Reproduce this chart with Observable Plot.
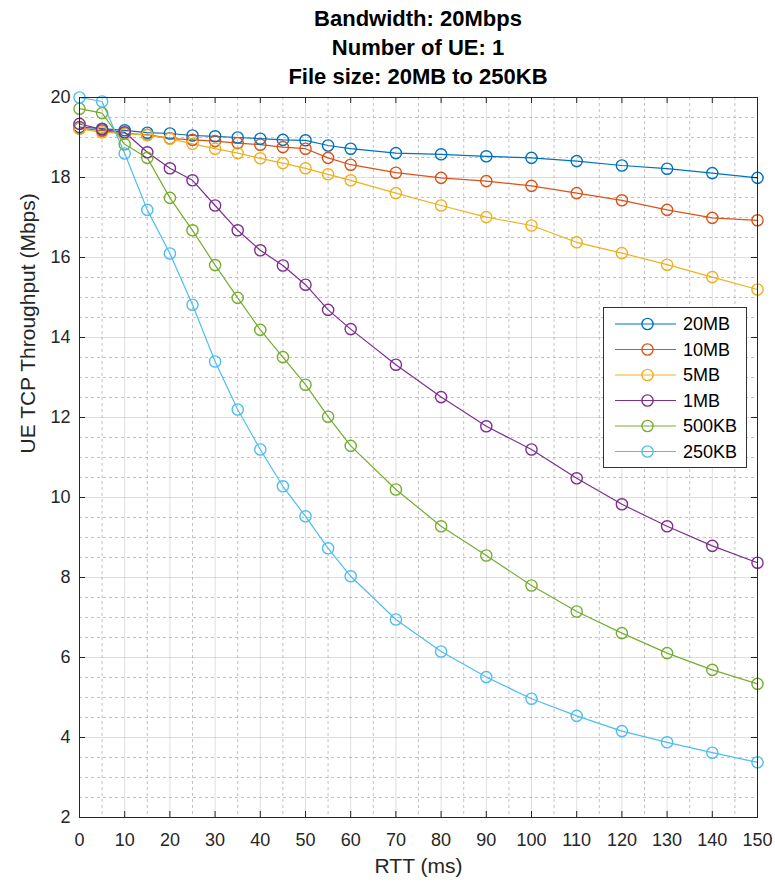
<!DOCTYPE html>
<html>
<head>
<meta charset="utf-8">
<script src="https://cdn.jsdelivr.net/npm/d3@7"></script>
<script src="https://cdn.jsdelivr.net/npm/@observablehq/plot@0.6"></script>
<style>
  body { margin: 0; background: #fff; font-family: "Liberation Sans", Arial, sans-serif; }
  #wrap { position: relative; width: 775px; height: 882px; }
  #title { margin-left: 79px; width: 678px; padding-top: 4px; height: 87px; text-align: center;
           font-weight: bold; font-size: 22px; line-height: 29px; color: #000; }
  #legend { position: absolute; left: 603px; top: 307px; background: #fff; border: 1px solid #333;
            box-sizing: border-box; width: 144px; height: 161px; }
</style>
</head>
<body>
<div id="wrap">
  <div id="title">Bandwidth: 20Mbps<br>Number of UE: 1<br>File size: 20MB to 250KB</div>
  <div id="chart"></div>
  <div id="legend"></div>
</div>
<script>
const rtt = [0, 5, 10, 15, 20, 25, 30, 35, 40, 45, 50, 55, 60, 70, 80, 90, 100, 110, 120, 130, 140, 150];
const sizes = ["20MB", "10MB", "5MB", "1MB", "500KB", "250KB"];
const colors = ["#0072BD", "#D95319", "#EDB120", "#7E2F8E", "#77AC30", "#4DBEEE"];

const tput20MB  = [19.26, 19.22, 19.18, 19.12, 19.10, 19.05, 19.03, 19.00, 18.97, 18.94, 18.93, 18.80, 18.72, 18.61, 18.58, 18.53, 18.49, 18.41, 18.30, 18.22, 18.11, 17.99];
const tput10MB  = [19.23, 19.17, 19.10, 19.07, 18.98, 18.94, 18.91, 18.86, 18.82, 18.76, 18.72, 18.49, 18.32, 18.12, 17.99, 17.91, 17.79, 17.61, 17.43, 17.19, 16.99, 16.93];
const tput5MB   = [19.22, 19.13, 19.10, 19.06, 18.97, 18.84, 18.72, 18.61, 18.48, 18.36, 18.23, 18.08, 17.93, 17.61, 17.30, 17.01, 16.80, 16.38, 16.11, 15.82, 15.51, 15.20];
const tput1MB   = [19.34, 19.20, 19.13, 18.63, 18.23, 17.93, 17.30, 16.68, 16.18, 15.80, 15.32, 14.69, 14.21, 13.32, 12.51, 11.78, 11.20, 10.48, 9.83, 9.28, 8.79, 8.37];
const tput500KB = [19.72, 19.61, 18.83, 18.49, 17.49, 16.68, 15.81, 14.99, 14.19, 13.51, 12.82, 12.02, 11.29, 10.20, 9.28, 8.55, 7.80, 7.15, 6.61, 6.11, 5.69, 5.34];
const tput250KB = [20.00, 19.90, 18.60, 17.19, 16.10, 14.82, 13.40, 12.20, 11.20, 10.28, 9.53, 8.73, 8.03, 6.95, 6.15, 5.51, 4.97, 4.54, 4.16, 3.88, 3.62, 3.38];

const xTicks = [0, 10, 20, 30, 40, 50, 60, 70, 80, 90, 100, 110, 120, 130, 140, 150];
const yTicks = [2, 4, 6, 8, 10, 12, 14, 16, 18, 20];
const xMinor = d3.range(5, 150, 10);
const yMinor = d3.range(2.5, 20, 0.5).filter(v => v % 2 !== 0);

const xLabel = "RTT (ms)";
const yLabel = "UE TCP Throughput (Mbps)";

const allSeries = [tput20MB, tput10MB, tput5MB, tput1MB, tput500KB, tput250KB];
const rows = [];
sizes.forEach((s, i) => allSeries[i].forEach((v, j) => rows.push({rtt: rtt[j], tput: v, size: s})));

const W = 775, H = 791, mT = 6, mB = 65, mL = 79, mR = 18;
const fw = W - mL - mR, fh = H - mT - mB;
const tickLen = 6;

const chart = Plot.plot({
  width: W, height: H,
  marginTop: mT, marginBottom: mB, marginLeft: mL, marginRight: mR,
  x: {domain: [0, 150]},
  y: {domain: [2, 20]},
  color: {domain: sizes, range: colors},
  style: {fontFamily: '"Liberation Sans", Arial, sans-serif', fontSize: "18px", color: "#262626", background: "#fff", overflow: "visible"},
  marks: [
    Plot.gridX(xMinor, {stroke: "#a8a8a8", strokeOpacity: 0.7, strokeDasharray: "3,3", strokeWidth: 1}),
    Plot.gridY(yMinor, {stroke: "#a8a8a8", strokeOpacity: 0.7, strokeDasharray: "3,3", strokeWidth: 1}),
    Plot.gridX(xTicks, {stroke: "#000", strokeOpacity: 0.13, strokeWidth: 1}),
    Plot.gridY(yTicks, {stroke: "#000", strokeOpacity: 0.13, strokeWidth: 1}),
    Plot.line(rows, {x: "rtt", y: "tput", z: "size", stroke: "size", strokeWidth: 1.2}),
    Plot.dot(rows, {x: "rtt", y: "tput", stroke: "size", r: 5.6, strokeWidth: 1.4, fill: "none"}),
    Plot.frame({stroke: "#262626", strokeWidth: 1}),
    Plot.tickX(xTicks, {x: d => d, insetTop: fh - tickLen, stroke: "#262626"}),
    Plot.tickX(xTicks, {x: d => d, insetBottom: fh - tickLen, stroke: "#262626"}),
    Plot.tickY(yTicks, {y: d => d, insetRight: fw - tickLen, stroke: "#262626"}),
    Plot.tickY(yTicks, {y: d => d, insetLeft: fw - tickLen, stroke: "#262626"}),
    Plot.axisX({ticks: xTicks, tickSize: 0, tickPadding: 16, label: null, fontSize: 18}),
    Plot.axisY({ticks: yTicks, tickSize: 0, tickPadding: 9, label: null, fontSize: 18}),
    Plot.text([xLabel], {frameAnchor: "bottom", dy: 49, lineAnchor: "middle", fontSize: 21, fill: "#262626"}),
    Plot.text([yLabel], {frameAnchor: "left", dx: -51, dy: -4, rotate: -90, lineAnchor: "middle", fontSize: 21, fill: "#262626"})
  ]
});
document.getElementById("chart").appendChild(chart);

// legend
const lg = d3.select("#legend").append("svg").attr("width", 142).attr("height", 159)
  .style("font-family", '"Liberation Sans", Arial, sans-serif').style("font-size", "18px");
sizes.forEach((s, i) => {
  const cy = 16 + i * 25.5;
  lg.append("line").attr("x1", 11).attr("x2", 72).attr("y1", cy).attr("y2", cy).attr("stroke", colors[i]).attr("stroke-width", 1.2);
  lg.append("circle").attr("cx", 43.5).attr("cy", cy).attr("r", 5.6).attr("fill", "none").attr("stroke", colors[i]).attr("stroke-width", 1.4);
  lg.append("text").attr("x", 79).attr("y", cy).attr("dy", "0.35em").attr("fill", "#000").text(s);
});
</script>
</body>
</html>
